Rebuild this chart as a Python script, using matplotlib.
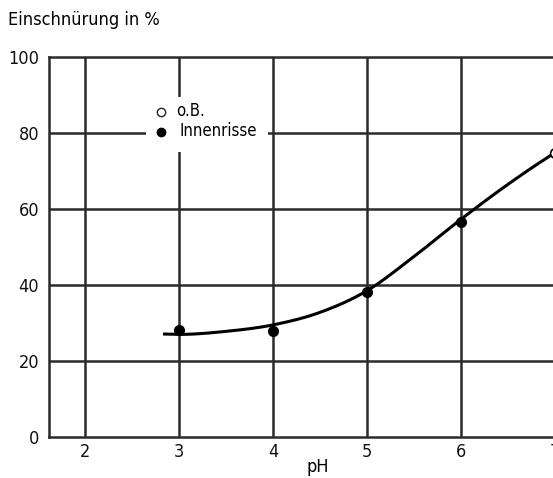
import numpy as np
import matplotlib
matplotlib.use("Agg")
import matplotlib.pyplot as plt
from matplotlib.patches import Rectangle

plt.rcParams['font.family'] = ['DejaVu Sans']
plt.rcParams['font.stretch'] = 'condensed'

# data
ph_filled = [3, 4, 5, 6]
val_filled = [28.2, 27.9, 38.2, 56.6]
ph_open = [7]
val_open = [74.8]
curve_ph = [2.83, 3.0, 3.5, 4.0, 4.5, 5.0, 5.5, 6.0, 6.5, 7.0, 7.3]
curve_val = [27.1, 27.0, 27.8, 29.5, 32.8, 38.5, 47.5, 57.3, 66.5, 74.8, 79.2]
x_ticks = [2, 3, 4, 5, 6, 7]
y_ticks = [0, 20, 40, 60, 80, 100]


def hermite(xs, ys, n=40):
    xs = np.asarray(xs, float); ys = np.asarray(ys, float)
    m = np.zeros_like(ys)
    d = np.diff(ys) / np.diff(xs)
    m[0], m[-1] = d[0], d[-1]
    for i in range(1, len(xs) - 1):
        h0, h1 = xs[i] - xs[i - 1], xs[i + 1] - xs[i]
        m[i] = (d[i - 1] * h1 + d[i] * h0) / (h0 + h1)
    ox, oy = [], []
    for i in range(len(xs) - 1):
        h = xs[i + 1] - xs[i]
        t = np.linspace(0, 1, n, endpoint=(i == len(xs) - 2))
        h00 = 2 * t**3 - 3 * t**2 + 1
        h10 = t**3 - 2 * t**2 + t
        h01 = -2 * t**3 + 3 * t**2
        h11 = t**3 - t**2
        ox.append(xs[i] + t * h)
        oy.append(h00 * ys[i] + h10 * h * m[i] + h01 * ys[i + 1] + h11 * h * m[i + 1])
    return np.concatenate(ox), np.concatenate(oy)


W, H = 553, 478
fig = plt.figure(figsize=(W / 100, H / 100), dpi=100)
px = 94.0
xl = (1.617, 7.5)
left = 49
bottom = H - 437
ax = fig.add_axes([left / W, bottom / H, (xl[1] - xl[0]) * px / W, 380 / H])
ax.set_xlim(*xl)
ax.set_ylim(0, 100)

gc = '#2a2a2a'
for x in x_ticks:
    ax.axvline(x, color=gc, lw=1.8, zorder=1)
for y in y_ticks[1:-1]:
    ax.axhline(y, color=gc, lw=1.8, zorder=1)

for s in ['left', 'top', 'bottom']:
    ax.spines[s].set_color(gc)
    ax.spines[s].set_linewidth(1.8)
ax.spines['right'].set_visible(False)

fs = 13
ax.set_xticks(x_ticks)
ax.set_yticks(y_ticks)
ax.tick_params(length=0, labelsize=fs, colors='#111111')
ax.tick_params(axis='y', pad=7)
ax.tick_params(axis='x', pad=4)

# white legend area interrupting grid
ax.add_patch(Rectangle((2.65, 75), 1.3, 14.5, facecolor='white', edgecolor='none', zorder=2))
ax.plot([2.81], [85.5], 'o', ms=6, mfc='white', mec='#222', mew=1.0, zorder=3)
ax.plot([2.81], [80.2], 'o', ms=6, mfc='black', mec='black', zorder=3)
ax.text(2.97, 85.7, 'o.B.', fontsize=12, va='center', ha='left', zorder=3)
ax.text(3.01, 80.4, 'Innenrisse', fontsize=12, va='center', ha='left', zorder=3)

cx, cy = hermite(curve_ph, curve_val)
ax.plot(cx, cy, color='black', lw=2.2, zorder=4, solid_capstyle='butt')
ax.plot(ph_filled, val_filled, 'o', ms=7, color='black', zorder=5)
ax.plot(ph_open, val_open, 'o', ms=7, mfc='white', mec='black', mew=1.2, zorder=5)

fig.text(8 / W, 1 - 20 / H, 'Einschnürung in %', fontsize=fs, ha='left', va='center')
fig.text(318 / W, 1 - 467 / H, 'pH', fontsize=fs, ha='center', va='center')

fig.savefig('out.png', dpi=100)
